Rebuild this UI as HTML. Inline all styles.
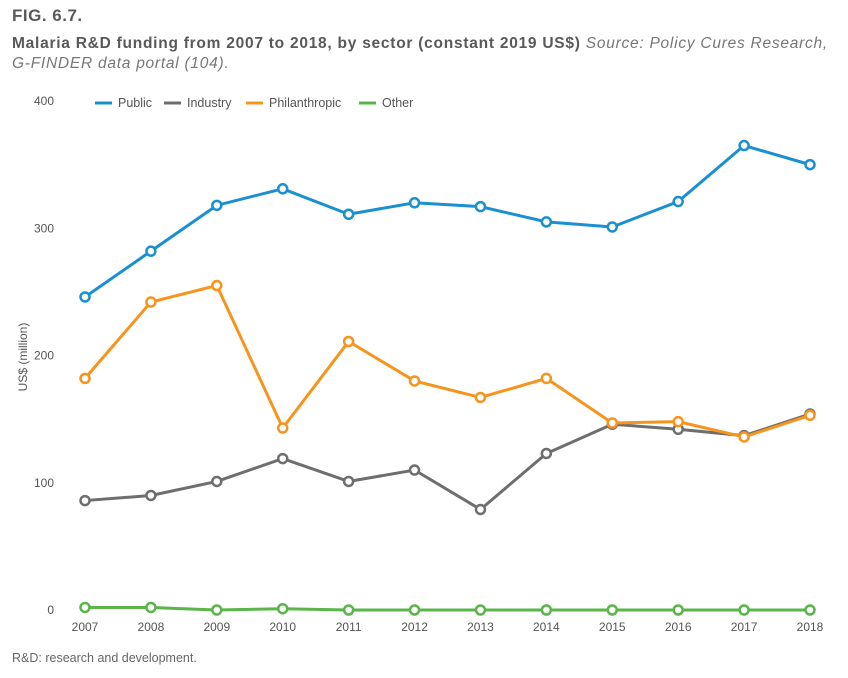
<!DOCTYPE html>
<html><head><meta charset="utf-8"><style>
body{margin:0;background:#fff;font-family:"Liberation Sans",sans-serif;}
#w{position:relative;width:848px;height:678px;overflow:hidden}
.t{position:absolute;color:#555}
</style></head><body><div id="w">
<div class="t" style="left:12px;top:6px;font-size:17px;font-weight:bold;color:#58595b;letter-spacing:0.5px">FIG. 6.7.</div>
<div class="t" style="left:12px;top:34px;font-size:15.5px;line-height:20px;color:#58595b;width:836px;white-space:nowrap;letter-spacing:0.75px"><b>Malaria R&amp;D funding from 2007 to 2018, by sector (constant 2019 US$)</b> <i style="color:#777">Source: Policy Cures Research,<br>G-FINDER data portal (104).</i></div>
<div class="t" style="left:12px;top:651px;font-size:12.5px;color:#666">R&amp;D: research and development.</div>
<svg id="c" width="848" height="678" style="position:absolute;left:0;top:0"></svg>
</div>
<script>
const years=[2007,2008,2009,2010,2011,2012,2013,2014,2015,2016,2017,2018];
const yTicks=[0,100,200,300,400];
const publicVals=[246,282,318,331,311,320,317,305,301,321,365,350];
const industryVals=[86,90,101,119,101,110,79,123,146,142,137,154];
const philVals=[182,242,255,143,211,180,167,182,147,148,136,153];
const otherVals=[2,2,0,1,0,0,0,0,0,0,0,0];
const seriesNames=["Public","Industry","Philanthropic","Other"];
const colors=["#1a8fd1","#6d6e70","#f7941d","#5ab54b"];
const NS="http://www.w3.org/2000/svg",svg=document.getElementById('c');
const x=i=>85+i*(810-85)/(years.length-1);
const y=v=>610-v*(610-101)/400;
function mk(t,a,p){const e=document.createElementNS(NS,t);for(const k in a)e.setAttribute(k,a[k]);(p||svg).appendChild(e);return e;}
yTicks.forEach(v=>{const t=mk('text',{x:54,y:y(v)+4,'text-anchor':'end','font-size':12,fill:'#555','font-family':'Liberation Sans'});t.textContent=v;

});
years.forEach((yr,i)=>{const t=mk('text',{x:x(i),y:631,'text-anchor':'middle','font-size':12,fill:'#555','font-family':'Liberation Sans'});t.textContent=yr;

});
const yt=mk('text',{x:0,y:0,transform:'translate(27,357) rotate(-90)','text-anchor':'middle','font-size':12,fill:'#555','font-family':'Liberation Sans'});yt.textContent='US$ (million)';


const all=[publicVals,industryVals,philVals,otherVals];
[3,1,2,0].forEach(s=>{const d=all[s];const g=mk('g',{});


mk('polyline',{points:d.map((v,i)=>x(i)+','+y(v)).join(' '),fill:'none',stroke:colors[s],'stroke-width':3},g);
d.forEach((v,i)=>{const c=mk('circle',{cx:x(i),cy:y(v),r:4.5,fill:'#fff',stroke:colors[s],'stroke-width':2.5},g);

});});
const lx=[95,164,246,359];
seriesNames.forEach((n,i)=>{const g=mk('g',{});


mk('line',{x1:lx[i],x2:lx[i]+17,y1:103,y2:103,stroke:colors[i],'stroke-width':3},g);
const t=mk('text',{x:lx[i]+23,y:107,'font-size':12.5,fill:'#555','font-family':'Liberation Sans'},g);t.textContent=n;});
</script></body></html>
